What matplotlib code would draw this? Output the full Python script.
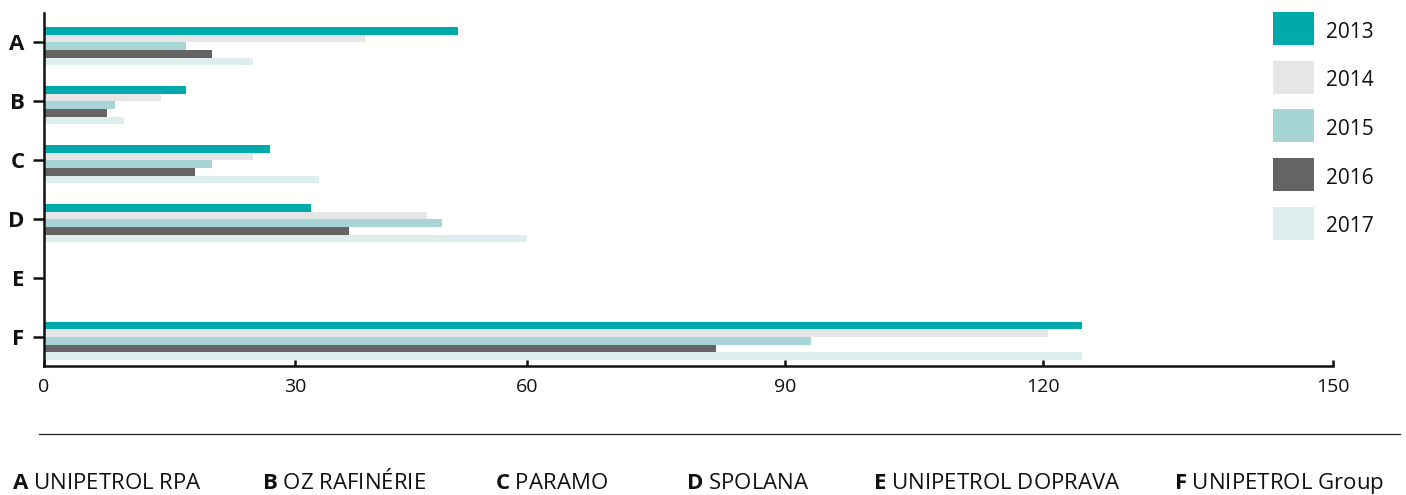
import numpy as np
import matplotlib
matplotlib.use("Agg")
import matplotlib.pyplot as plt
from matplotlib.patches import Rectangle
from matplotlib.lines import Line2D

plt.rcParams['font.family'] = ['Open Sans', 'DejaVu Sans']
plt.rcParams['mathtext.fontset'] = 'custom'
plt.rcParams['mathtext.bf'] = 'Open Sans:bold'
plt.rcParams['mathtext.rm'] = 'Open Sans'

# Companies (letter codes on the y axis, full names in the footer)
categories = ['A', 'B', 'C', 'D', 'E', 'F']
company_names = ['UNIPETROL RPA', 'OZ RAFINÉRIE', 'PARAMO', 'SPOLANA',
                 'UNIPETROL DOPRAVA', 'UNIPETROL Group']

years = ['2013', '2014', '2015', '2016', '2017']
values_2013 = [51, 17, 27, 32, 0, 124]
values_2014 = [39, 14, 25, 47, 0, 120.5]
values_2015 = [17, 8.5, 20, 49, 0, 93]
values_2016 = [20, 7.5, 18, 37, 0, 82]
values_2017 = [25, 9.5, 33, 60, 0, 124]
series = [values_2013, values_2014, values_2015, values_2016, values_2017]

colors = ['#00aaaa', '#e6e6e6', '#a7d5d5', '#646464', '#deeded']

x_ticks = [0, 30, 60, 90, 120, 150]
# the printed axis is not evenly spaced, so map ticks onto these fractions
tick_fracs = [0, 0.195, 0.375, 0.575, 0.775, 1.0]


def fwd(x):
    return np.interp(x, x_ticks, tick_fracs)


def inv(f):
    return np.interp(f, tick_fracs, x_ticks)


W, H = 1406, 495
fig = plt.figure(figsize=(W / 100, H / 100), dpi=100)
ax = fig.add_axes([44 / W, 1 - 366 / H, (1333 - 44) / W, (366 - 13) / H])

ax.set_xscale('function', functions=(fwd, inv))

y = np.arange(len(categories))
bar_h = 0.13
for i, vals in enumerate(series):
    ax.barh(y - 0.195 + i * bar_h, vals, height=bar_h, color=colors[i],
            linewidth=0)

ax.set_xlim(0, 150)
ax.set_ylim(5.49, -0.5)
ax.set_xticks(x_ticks)
ax.set_xticklabels([str(t) for t in x_ticks])
ax.set_yticks(y)
ax.set_yticklabels(categories, fontweight='bold')

for side in ['top', 'right']:
    ax.spines[side].set_visible(False)
for side in ['left', 'bottom']:
    ax.spines[side].set_linewidth(1.8)
    ax.spines[side].set_color('#111111')

ax.tick_params(axis='y', direction='out', length=8, width=1.8, pad=6,
               labelsize=16, colors='#111111')
ax.tick_params(axis='x', direction='in', length=4.5, width=1.8, pad=9,
               labelsize=14, colors='#111111')

# legend boxes on the right
for i, (year, c) in enumerate(zip(years, colors)):
    top = 12 + 48.7 * i
    fig.add_artist(Rectangle((1273 / W, 1 - (top + 33) / H), 41 / W, 33 / H,
                             transform=fig.transFigure, color=c, linewidth=0))
    fig.text(1326 / W, 1 - (top + 20) / H, year, ha='left', va='center',
             fontsize=15, color='#111111')

# separator line and company key
fig.add_artist(Line2D([39 / W, 1400 / W], [1 - 434 / H] * 2,
                      transform=fig.transFigure, color='#222222', lw=0.9))

key_x = [12, 262, 495, 686, 873, 1174]
for x, code, name in zip(key_x, categories, company_names):
    fig.text(x / W, 1 - 489 / H, r'$\mathbf{' + code + '}$ ' + name,
             ha='left', va='baseline', fontsize=16, color='#111111')

fig.savefig('out.png', dpi=100)
